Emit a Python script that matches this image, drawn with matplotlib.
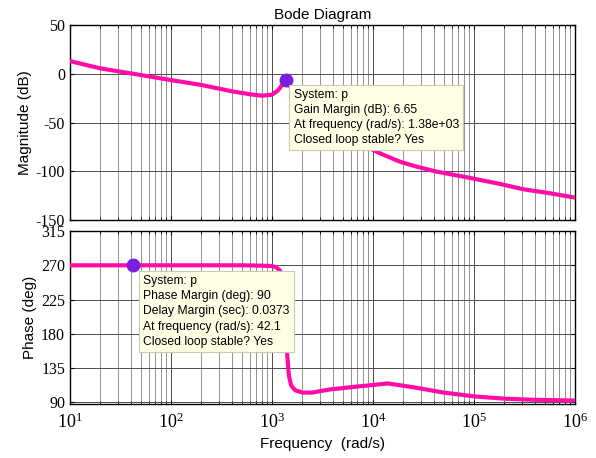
import numpy as np
import matplotlib
matplotlib.use('Agg')
import matplotlib.pyplot as plt
from matplotlib.ticker import FixedLocator, LogLocator, NullFormatter

# Bode-Daten
f_mag = [10, 20, 42.1, 100, 200, 400, 600, 800, 1000, 1150, 1250, 1380,
         1500, 1700, 2000, 3000, 5000, 8000, 11700, 18500, 27000, 42700,
         84700, 181000, 308000, 565000, 1e6]
mag = [13, 5.5, 0, -6.5, -11.5, -18, -21, -22.5, -21.5, -17, -12, -6.65,
       -12, -25, -35, -50, -63, -73, -81.6, -90.2, -95.3, -100.4,
       -106.2, -113, -118.5, -122.6, -127]

f_ph = [10, 100, 500, 800, 1000, 1100, 1200, 1280, 1330, 1380, 1420, 1470,
        1550, 1700, 2000, 2500, 3700, 6000, 10000, 14000, 25000, 50000,
        1e5, 2e5, 4e5, 1e6]
phase = [270, 270, 270, 269.5, 269, 267.5, 263, 245, 210, 180, 150, 125,
         112, 106, 103, 103, 107, 110, 113, 115, 110, 103,
         98, 95, 93.5, 92.5]

gm_freq, gm_db = 1380, -6.65
pm_freq, pm_deg = 42.1, 270

mag_ticks = [50, 0, -50, -100, -150]
ph_ticks = [90, 135, 180, 225, 270, 315]

gm_text = 'System: p\nGain Margin (dB): 6.65\nAt frequency (rad/s): 1.38e+03\nClosed loop stable? Yes'
pm_text = ('System: p\nPhase Margin (deg): 90\nDelay Margin (sec): 0.0373\n'
           'At frequency (rad/s): 42.1\nClosed loop stable? Yes')

plt.rcParams['axes.unicode_minus'] = False
plt.rcParams['font.family'] = 'serif'
plt.rcParams['font.serif'] = ['Liberation Serif']
plt.rcParams['mathtext.fontset'] = 'stix'

pink = '#FF0DA6'
dot = '#7A1FE0'
sans = 'Liberation Sans'

fig = plt.figure(figsize=(5.96, 4.58), dpi=100)
ax1 = fig.add_axes([70/596, 1-220/458, 505/596, 195/458])
ax2 = fig.add_axes([70/596, 1-404/458, 505/596, 173/458])

for ax in (ax1, ax2):
    ax.set_xscale('log')
    ax.set_xlim(10, 1e6)
    ax.xaxis.set_minor_locator(LogLocator(base=10, subs=np.arange(2, 10), numticks=20))
    ax.xaxis.set_minor_formatter(NullFormatter())
    ax.grid(True, which='major', color='0.3', lw=0.7)
    ax.grid(True, which='minor', axis='x', color='0.5', lw=0.6)
    ax.tick_params(which='both', direction='in', top=True, right=True, labelsize=11.5)
    ax.tick_params(which='major', length=3)
    ax.tick_params(which='minor', length=2)
    for sp in ax.spines.values():
        sp.set_linewidth(1.0)
    ax.set_axisbelow(True)

ax1.plot(f_mag, mag, color=pink, lw=3, solid_capstyle='butt', zorder=3)
ax1.plot([gm_freq], [gm_db], 'o', color=dot, ms=9, zorder=5)
ax1.set_ylim(-150, 50)
ax1.yaxis.set_major_locator(FixedLocator(mag_ticks))
ax1.set_yticklabels([str(t) for t in mag_ticks])
ax1.set_xticklabels([])
ax1.set_ylabel('Magnitude (dB)', family=sans, fontsize=11, labelpad=3)
ax1.set_title('Bode Diagram', family=sans, fontsize=11, pad=4)
ax1.text(0.443, 0.673, gm_text, transform=ax1.transAxes, fontsize=8.7,
         family=sans, va='top', ha='left', linespacing=1.35, zorder=6,
         bbox=dict(boxstyle='square,pad=0.35', fc='#FFFFE6', ec='#C8C8B4', lw=0.8))

ax2.plot(f_ph, phase, color=pink, lw=3, solid_capstyle='butt', zorder=3)
ax2.plot([pm_freq], [pm_deg], 'o', color=dot, ms=9, zorder=5)
ax2.set_ylim(88, 315)
ax2.yaxis.set_major_locator(FixedLocator(ph_ticks))
ax2.set_yticklabels([str(t) for t in ph_ticks])
ax2.set_xticks([1e1, 1e2, 1e3, 1e4, 1e5, 1e6])
ax2.set_xticklabels([r'$\mathregular{10^{%d}}$' % k for k in range(1, 7)], fontsize=13)
ax2.tick_params(axis='x', pad=6)
ax2.set_ylabel('Phase (deg)', family=sans, fontsize=11, labelpad=3)
ax2.set_xlabel('Frequency  (rad/s)', family=sans, fontsize=11, labelpad=4)
ax2.text(0.145, 0.745, pm_text, transform=ax2.transAxes, fontsize=8.7,
         family=sans, va='top', ha='left', linespacing=1.35, zorder=6,
         bbox=dict(boxstyle='square,pad=0.35', fc='#FFFFE6', ec='#C8C8B4', lw=0.8))

fig.savefig('out.png', dpi=100)
